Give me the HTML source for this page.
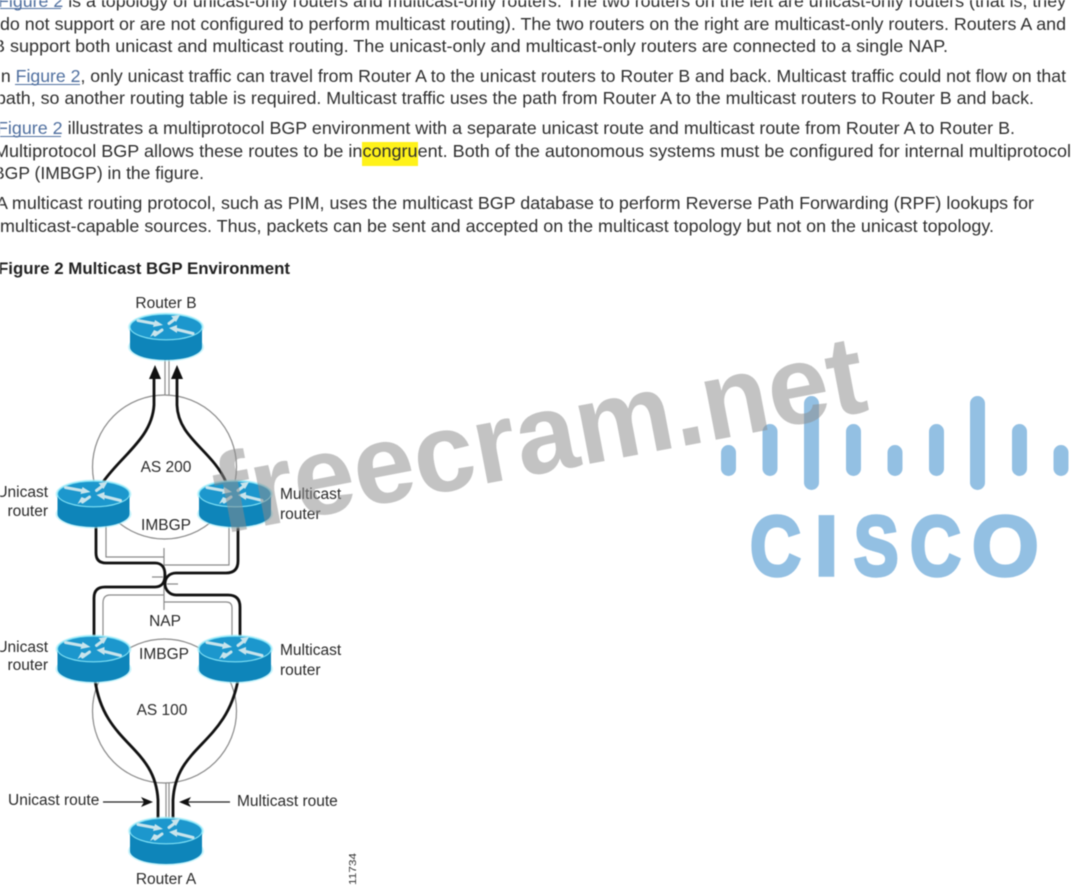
<!DOCTYPE html>
<html><head><meta charset="utf-8"><style>
html,body{margin:0;padding:0;background:#fff;width:1074px;height:887px;overflow:hidden}
svg{display:block;filter:blur(.4px)}
text{font-family:"Liberation Sans",sans-serif}
.t{font-size:17.5px;fill:#2e2e2e}
.l{fill:#4f6f9f}
.d{font-size:15.5px;fill:#2a2a2a}
.g{fill:none;stroke:#8a8a8a;stroke-width:1.2}
.b{fill:none;stroke:#111;stroke-width:2.8}
</style></head><body>
<svg width="1074" height="887" viewBox="0 0 1074 887" xmlns="http://www.w3.org/2000/svg">
<defs>
<g id="r">
<ellipse cx="0" cy="20" rx="38" ry="14.5" fill="#a5ecf9" opacity=".6"/>
<ellipse cx="0" cy="0" rx="38" ry="14.5" fill="#a5ecf9" opacity=".6"/>
<path d="M-36,0 V20 A36,13 0 0 0 36,20 V0 Z" fill="#0e85ba"/>
<ellipse cx="0" cy="0" rx="36" ry="12.8" fill="#1c97cd" stroke="#7fe0f5" stroke-width="1.1"/>
<g fill="#c8e4ec" stroke="#c8e4ec" stroke-width="3" stroke-linecap="round">
<line x1="-28" y1="-6.5" x2="-12" y2="-3.5"/>
<line x1="27" y1="6.5" x2="11" y2="2.5"/>
<line x1="3" y1="-3.5" x2="9" y2="-8"/>
<line x1="-4" y1="3" x2="-11" y2="8"/>
</g>
<g fill="#c8e4ec">
<polygon points="-11,-7 -3,-2 -13,0"/>
<polygon points="11,-2 3,1 11,6"/>
<polygon points="5,-11 14,-12 10,-5"/>
<polygon points="-7,5 -16,10 -12,3"/>
</g>
</g>
</defs>

<rect x="362" y="142" width="56" height="24" fill="#fff21a"/>

<text class="t" x="-2" y="7" textLength="1068" lengthAdjust="spacingAndGlyphs"><tspan class="l">Figure 2</tspan> is a topology of unicast-only routers and multicast-only routers. The two routers on the left are unicast-only routers (that is, they</text>
<text class="t" x="0" y="30" textLength="1066" lengthAdjust="spacingAndGlyphs">do not support or are not configured to perform multicast routing). The two routers on the right are multicast-only routers. Routers A and</text>
<text class="t" x="-7" y="52" textLength="955" lengthAdjust="spacingAndGlyphs">B support both unicast and multicast routing. The unicast-only and multicast-only routers are connected to a single NAP.</text>
<text class="t" x="-4" y="82" textLength="1070" lengthAdjust="spacingAndGlyphs">In <tspan class="l">Figure 2</tspan>, only unicast traffic can travel from Router A to the unicast routers to Router B and back. Multicast traffic could not flow on that</text>
<text class="t" x="-4" y="104" textLength="1038" lengthAdjust="spacingAndGlyphs">path, so another routing table is required. Multicast traffic uses the path from Router A to the multicast routers to Router B and back.</text>
<text class="t" x="-3" y="134" textLength="1018" lengthAdjust="spacingAndGlyphs"><tspan class="l">Figure 2</tspan> illustrates a multiprotocol BGP environment with a separate unicast route and multicast route from Router A to Router B.</text>
<text class="t" x="-6" y="157" textLength="1077" lengthAdjust="spacingAndGlyphs">Multiprotocol BGP allows these routes to be incongruent. Both of the autonomous systems must be configured for internal multiprotocol</text>
<text class="t" x="-7" y="179" textLength="211" lengthAdjust="spacingAndGlyphs">BGP (IMBGP) in the figure.</text>
<text class="t" x="-4" y="209" textLength="1038" lengthAdjust="spacingAndGlyphs">A multicast routing protocol, such as PIM, uses the multicast BGP database to perform Reverse Path Forwarding (RPF) lookups for</text>
<text class="t" x="0" y="232" textLength="994" lengthAdjust="spacingAndGlyphs">multicast-capable sources. Thus, packets can be sent and accepted on the multicast topology but not on the unicast topology.</text>
<text x="-2" y="274" font-size="17" font-weight="700" fill="#222" textLength="292" lengthAdjust="spacingAndGlyphs">Figure 2 Multicast BGP Environment</text>
<rect x="-2" y="8" width="63" height="1" fill="#4f6f9f"/>
<rect x="15" y="84" width="65" height="1" fill="#4f6f9f"/>
<rect x="-2" y="136" width="63" height="1" fill="#4f6f9f"/>

<circle class="g" cx="164.5" cy="467" r="72"/>
<circle class="g" cx="164.5" cy="711" r="72"/>

<path class="g" d="M165,358 V395 M169,358 V395"/>
<path class="g" d="M106,525 V557 H164 M164,548 V610 M164,565 H229 V525 M152,577 H163 M167,584 H178"/>
<path class="g" stroke-width="1.6" d="M164,595 H110 Q103,595 103,603 V636 M164,602 H226 Q232,602 232,608 V636"/>
<path class="g" d="M166,783 V820 M169,783 V820"/>

<path class="b" d="M103,482 C122,455 152,438 154,405 V376"/>
<path class="b" d="M226,482 C212,450 178,438 177,405 V376"/>
<polygon points="155,365 149,379 161,379" fill="#111"/>
<polygon points="177,365 171,379 183,379" fill="#111"/>
<path class="b" d="M96,525 V553 Q96,563 106,563 H155 C162,563 165,568 165,575 C165,582 162,587 155,587 H105 Q94,587 94,598 V636"/>
<path class="b" d="M238,525 V561 Q238,573 226,573 H176 C170,573 165,577 165,584 C165,590 170,595 176,595 H228 Q240,595 240,607 V636"/>
<path class="b" d="M95,680 C104,745 155,745 158,800 V820"/>
<path class="b" d="M238,680 C226,745 176,745 173,800 V820"/>

<path d="M103,802 H146" stroke="#222" stroke-width="1.2"/>
<polygon points="153,802 141,797 144,802 141,807" fill="#111"/>
<path d="M186,802 H230" stroke="#222" stroke-width="1.2"/>
<polygon points="179,802 191,797 188,802 191,807" fill="#111"/>

<use href="#r" x="166" y="327"/>
<use href="#r" x="93.5" y="494"/>
<use href="#r" x="235" y="494"/>
<use href="#r" x="93.5" y="649"/>
<use href="#r" x="235" y="649"/>
<use href="#r" x="166" y="831"/>

<text class="d" x="166" y="308" text-anchor="middle">Router B</text>
<text class="d" x="166" y="472" text-anchor="middle">AS 200</text>
<text class="d" x="166" y="530" text-anchor="middle">IMBGP</text>
<text class="d" x="48" y="497" text-anchor="end">Unicast</text>
<text class="d" x="48" y="516" text-anchor="end">router</text>
<text class="d" x="280" y="499">Multicast</text>
<text class="d" x="280" y="519">router</text>
<text class="d" x="165" y="626" text-anchor="middle">NAP</text>
<text class="d" x="164" y="659" text-anchor="middle">IMBGP</text>
<text class="d" x="48" y="652" text-anchor="end">Unicast</text>
<text class="d" x="48" y="670" text-anchor="end">router</text>
<text class="d" x="280" y="655">Multicast</text>
<text class="d" x="280" y="675">router</text>
<text class="d" x="162" y="715" text-anchor="middle">AS 100</text>
<text class="d" x="8" y="805">Unicast route</text>
<text class="d" x="237" y="806">Multicast route</text>
<text class="d" x="166" y="884" text-anchor="middle">Router A</text>
<text transform="translate(356,885) rotate(-90)" font-size="10" fill="#333" textLength="32" lengthAdjust="spacingAndGlyphs">11734</text>

<g fill="#93c0e3">
<rect x="721" y="445" width="15" height="31" rx="7.5"/>
<rect x="762.5" y="424" width="15" height="52" rx="7.5"/>
<rect x="804" y="396" width="15" height="94" rx="7.5"/>
<rect x="846" y="424" width="15" height="52" rx="7.5"/>
<rect x="887.5" y="445" width="15" height="31" rx="7.5"/>
<rect x="929" y="424" width="15" height="52" rx="7.5"/>
<rect x="970" y="396" width="15" height="94" rx="7.5"/>
<rect x="1012" y="424" width="15" height="52" rx="7.5"/>
<rect x="1053.5" y="445" width="15" height="31" rx="7.5"/>
<g font-weight="700" font-size="84" stroke="#93c0e3" stroke-width="3.5">
<text transform="translate(750,575) scale(.84,1)">C</text>
<text transform="translate(814.7,575)">I</text>
<text transform="translate(853.7,575) scale(.8,1)">S</text>
<text transform="translate(910,575) scale(.84,1)">C</text>
<text transform="translate(972,575) scale(1.02,1)">O</text>
</g>
</g>

<text transform="translate(222,534) rotate(-10.8)" font-size="112" font-weight="700" fill="#8c8c8c" fill-opacity=".52" textLength="660" lengthAdjust="spacingAndGlyphs">freecram.net</text>
</svg>
</body></html>
